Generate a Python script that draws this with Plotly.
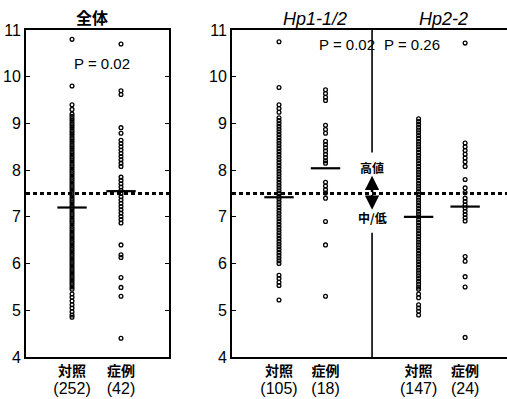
import plotly.graph_objects as go

W, H = 507, 399

# ---------------- data ----------------
panel_titles = ["全体", "Hp1-1/2", "Hp2-2"]
group_names = ["対照", "症例"]
left_counts = ["(252)", "(42)"]
right_counts = ["(105)", "(18)", "(147)", "(24)"]
p_values = ["P = 0.02", "P = 0.02", "P = 0.26"]
y_ticks = [4, 5, 6, 7, 8, 9, 10, 11]
threshold = 7.5
high_label = "高値"
low_label = "中/低"

all_ctrl = [10.8, 9.8, 9.4, 9.3, 9.2,
            9.15, 9.1, 9.05, 9.0, 8.95, 8.9, 8.85, 8.8, 8.75, 8.7, 8.65, 8.6,
            8.55, 8.5, 8.45, 8.4, 8.35, 8.3, 8.25, 8.2, 8.15, 8.1, 8.05, 8.0,
            7.95, 7.9, 7.85, 7.8, 7.75, 7.7, 7.65, 7.6, 7.55, 7.5, 7.45, 7.4,
            7.35, 7.3, 7.25, 7.2, 7.15, 7.1, 7.05, 7.0, 6.95, 6.9, 6.85, 6.8,
            6.75, 6.7, 6.65, 6.6, 6.55, 6.5, 6.45, 6.4, 6.35, 6.3, 6.25, 6.2,
            6.15, 6.1, 6.05, 6.0, 5.95, 5.9, 5.85, 5.8, 5.75, 5.7, 5.65, 5.6,
            5.55, 5.5, 5.45, 5.35, 5.28, 5.2, 5.12, 5.05, 4.97, 4.9, 4.85]
all_case = [10.7, 9.7, 9.62, 8.91, 8.79, 8.64, 8.57, 8.5, 8.43, 8.36, 8.29,
            8.22, 8.15, 8.08, 7.85, 7.78, 7.71, 7.64, 7.57, 7.5, 7.43, 7.36,
            7.29, 7.22, 7.15, 7.08, 7.01, 6.94, 6.87,
            6.4, 6.19, 6.13, 5.7, 5.49, 5.3, 4.4]
all_median = [7.2, 7.55]

hp1_ctrl = [10.75, 9.77, 9.4, 9.32, 9.24,
            9.12, 9.06, 9.0, 8.94, 8.88, 8.82, 8.76, 8.7, 8.64, 8.58, 8.52,
            8.46, 8.4, 8.34, 8.28, 8.22, 8.16, 8.1, 8.04, 7.98, 7.92, 7.86,
            7.8, 7.74, 7.68, 7.62, 7.56, 7.5, 7.44, 7.38, 7.32, 7.26, 7.2,
            7.14, 7.08, 7.02, 6.96, 6.9, 6.84, 6.78, 6.72, 6.66, 6.6, 6.54,
            6.48, 6.42, 6.36, 6.3, 6.24, 6.18, 6.12, 6.06, 6.0,
            5.75, 5.68, 5.6, 5.53, 5.22]
hp1_case = [9.72, 9.64, 9.56, 9.49, 8.96, 8.87, 8.79, 8.62, 8.55, 8.48, 8.41,
            8.34, 8.27, 8.2, 8.15, 7.74, 7.66, 7.58, 7.51, 7.4, 6.9, 6.4, 5.3]
hp1_median = [7.42, 8.04]

hp2_ctrl = [9.1, 9.04, 8.98, 8.92, 8.86, 8.8, 8.74, 8.68, 8.62, 8.56, 8.5,
            8.44, 8.38, 8.32, 8.26, 8.2, 8.14, 8.08, 8.02, 7.96, 7.9, 7.84,
            7.78, 7.72, 7.66, 7.6, 7.54, 7.48, 7.42, 7.36, 7.3, 7.24, 7.18,
            7.12, 7.06, 7.0, 6.94, 6.88, 6.82, 6.76, 6.7, 6.64, 6.58, 6.52,
            6.46, 6.4, 6.34, 6.28, 6.22, 6.16, 6.1, 6.04, 5.98, 5.92, 5.86,
            5.8, 5.74, 5.68, 5.62, 5.56, 5.5, 5.45,
            5.35, 5.27, 5.12, 5.05, 4.98, 4.9]
hp2_case = [10.72, 8.58, 8.5, 8.42, 8.34, 8.26, 8.18, 8.08, 7.8, 7.62, 7.52,
            7.4, 7.33, 7.26, 7.19, 7.12, 7.05, 6.98, 6.91, 6.15, 6.05, 5.72,
            5.5, 4.42]
hp2_median = [7.0, 7.22]

# divider gap (where the arrow/labels sit)
divider_top_end = 8.38
divider_bottom_start = 6.66
arrow_up_tip = 7.88
arrow_down_tip = 7.15
high_label_y = 8.05
low_label_y = 6.98

# ---------------- style ----------------
FONT = "Noto Sans CJK JP, Noto Sans, DejaVu Sans, sans-serif"
LAT = "Liberation Sans, Arial, sans-serif"
BLACK = "#000000"


def px(x):
    return x / W


def py(y):
    return 1 - y / H


point_style = dict(symbol="circle-open", size=3.8, color=BLACK,
                   line=dict(color=BLACK, width=1.3))
median_style = dict(symbol="line-ew-open", size=21, color=BLACK,
                    line=dict(color=BLACK, width=2.2))

fig = go.Figure()

left_pos = [0, 1]
right_pos = [0, 1, 3, 4]

left_series = [all_ctrl, all_case]
right_series = [hp1_ctrl, hp1_case, hp2_ctrl, hp2_case]
right_medians = hp1_median + hp2_median

for pos, vals in zip(left_pos, left_series):
    fig.add_trace(go.Scatter(x=[pos] * len(vals), y=vals, mode="markers",
                             marker=point_style, xaxis="x", yaxis="y",
                             showlegend=False, hoverinfo="y"))
fig.add_trace(go.Scatter(x=left_pos, y=all_median, mode="markers",
                         marker=median_style, xaxis="x", yaxis="y",
                         showlegend=False))

for pos, vals in zip(right_pos, right_series):
    fig.add_trace(go.Scatter(x=[pos] * len(vals), y=vals, mode="markers",
                             marker=point_style, xaxis="x2", yaxis="y2",
                             showlegend=False, hoverinfo="y"))
fig.add_trace(go.Scatter(x=right_pos, y=right_medians, mode="markers",
                         marker=median_style, xaxis="x2", yaxis="y2",
                         showlegend=False))

y_domain = [py(357), py(30)]
tickfont = dict(family=FONT, size=14, color=BLACK)
ytickfont = dict(family=LAT, size=16, color=BLACK)


def xlabel(g, n):
    return (f"<b>{g}</b><br>"
            f"<span style='font-family:Liberation Sans;font-size:16px'>{n}</span>")


left_ticktext = [xlabel(g, n) for g, n in zip(group_names, left_counts)]
right_ticktext = [xlabel(g, n) for g, n in zip(group_names * 2, right_counts)]

common_x = dict(showgrid=False, zeroline=False, showline=True, linecolor=BLACK,
                linewidth=1.8, ticks="", fixedrange=True, automargin=False,
                tickfont=tickfont)
common_y = dict(range=[4, 11], tickvals=y_ticks, tickfont=ytickfont,
                showgrid=False, zeroline=False, showline=True, linecolor=BLACK,
                linewidth=1.8, ticks="inside", ticklen=4, tickcolor=BLACK,
                fixedrange=True, automargin=False, domain=y_domain)

fig.update_layout(
    width=W, height=H,
    margin=dict(l=0, r=0, t=0, b=0, autoexpand=False),
    paper_bgcolor="white", plot_bgcolor="white",
    font=dict(family=FONT, color=BLACK),
    xaxis=dict(domain=[px(26), px(169)], range=[-0.94, 1.98],
               tickvals=left_pos, ticktext=left_ticktext, mirror=True,
               **common_x),
    yaxis=dict(anchor="x", mirror="ticks", **common_y),
    xaxis2=dict(domain=[px(232), 1.0], range=[-1.01, 4.9], anchor="y2",
                tickvals=right_pos, ticktext=right_ticktext, mirror=True,
                **common_x),
    yaxis2=dict(anchor="x2", mirror=False, **common_y),
)

# threshold dotted line in both panels
for xr, yr in (("x domain", "y"), ("x2 domain", "y2")):
    fig.add_shape(type="line", xref=xr, yref=yr, x0=0, x1=1,
                  y0=threshold, y1=threshold,
                  line=dict(color=BLACK, width=3, dash="4px,3px"), layer="above")

# vertical divider between Hp1-1/2 and Hp2-2
fig.add_shape(type="line", xref="x2", yref="y2", x0=2, x1=2,
              y0=11, y1=divider_top_end, line=dict(color=BLACK, width=1.6))
fig.add_shape(type="line", xref="x2", yref="y2", x0=2, x1=2,
              y0=divider_bottom_start, y1=4, line=dict(color=BLACK, width=1.6))

# double arrow
for tip in (arrow_up_tip, arrow_down_tip):
    fig.add_annotation(x=2, y=tip, ax=2, ay=threshold, xref="x2", yref="y2",
                       axref="x2", ayref="y2", text="", showarrow=True,
                       arrowhead=2, arrowsize=1.1, arrowwidth=2.6,
                       arrowcolor=BLACK)
fig.add_annotation(x=2, y=high_label_y, xref="x2", yref="y2",
                   text=f"<b>{high_label}</b>", showarrow=False,
                   xanchor="center", yanchor="middle",
                   font=dict(family=FONT, size=12, color=BLACK))
fig.add_annotation(x=2, y=low_label_y, xref="x2", yref="y2",
                   text=f"<b>{low_label}</b>", showarrow=False,
                   xanchor="center", yanchor="middle",
                   font=dict(family=FONT, size=12, color=BLACK))

# panel titles
fig.add_annotation(x=px(92), y=py(17), xref="paper", yref="paper",
                   text=f"<b>{panel_titles[0]}</b>", showarrow=False,
                   xanchor="center", yanchor="middle",
                   font=dict(family=FONT, size=16, color=BLACK))
fig.add_annotation(x=px(315), y=py(19), xref="paper", yref="paper",
                   text=f"<i>{panel_titles[1]}</i>", showarrow=False,
                   xanchor="center", yanchor="middle",
                   font=dict(family=LAT, size=18, color=BLACK))
fig.add_annotation(x=px(443), y=py(19), xref="paper", yref="paper",
                   text=f"<i>{panel_titles[2]}</i>", showarrow=False,
                   xanchor="center", yanchor="middle",
                   font=dict(family=LAT, size=18, color=BLACK))

# p-values
for (xc, yc), t in zip([(102, 63), (347, 45), (412, 45)], p_values):
    fig.add_annotation(x=px(xc), y=py(yc), xref="paper", yref="paper",
                       text=t, showarrow=False,
                       xanchor="center", yanchor="middle",
                       font=dict(family=LAT, size=15, color=BLACK))

fig.write_html("out.html")
